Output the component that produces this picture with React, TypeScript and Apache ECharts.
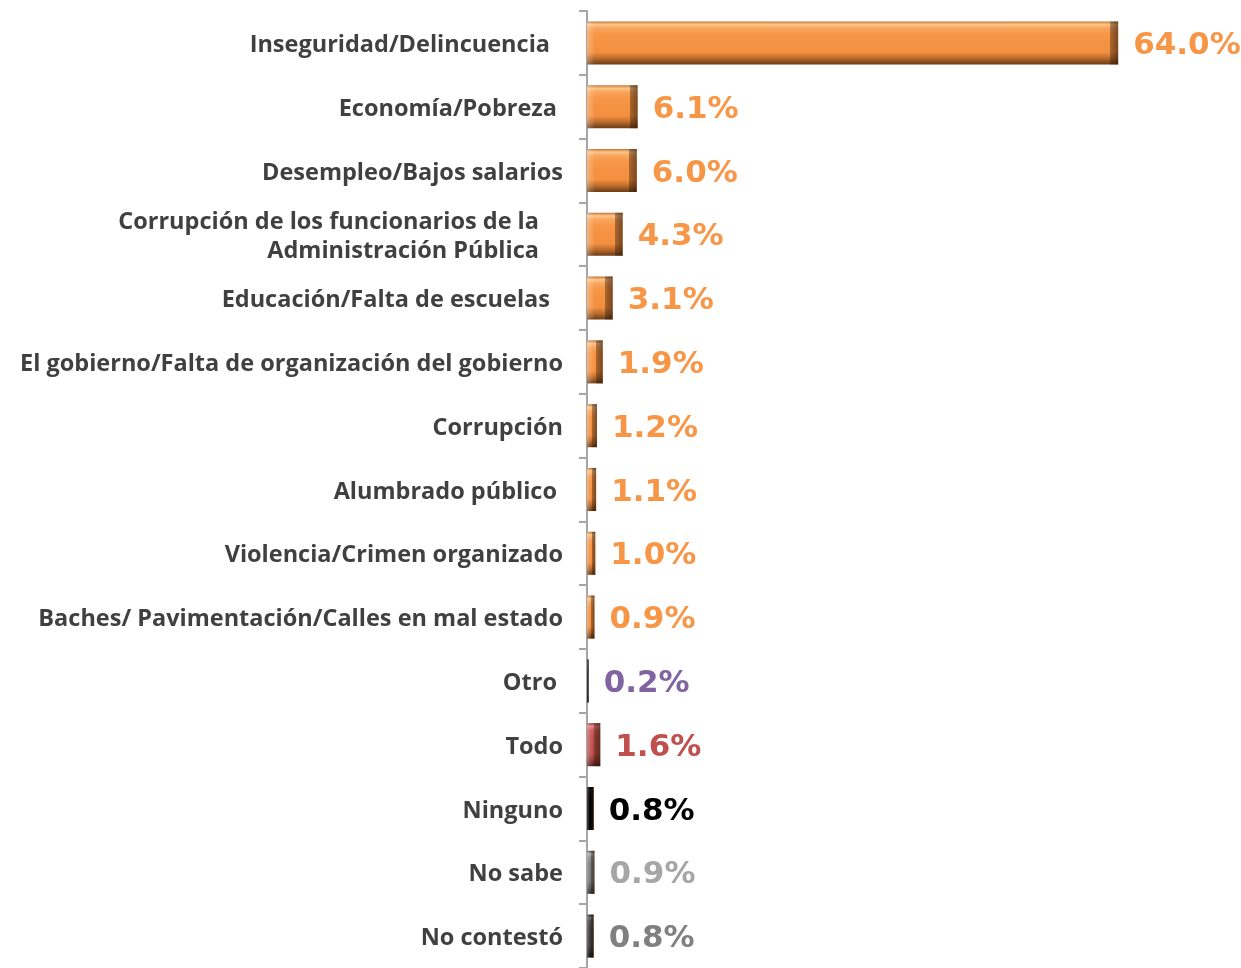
import React, { useEffect, useRef } from "react";
import * as echarts from "echarts";

const categories = [
  "Inseguridad/Delincuencia",
  "Economía/Pobreza",
  "Desempleo/Bajos salarios",
  "Corrupción de los funcionarios de la\nAdministración Pública",
  "Educación/Falta de escuelas",
  "El gobierno/Falta de organización del gobierno",
  "Corrupción",
  "Alumbrado público",
  "Violencia/Crimen organizado",
  "Baches/ Pavimentación/Calles en mal estado",
  "Otro",
  "Todo",
  "Ninguno",
  "No sabe",
  "No contestó",
];

const values = [64.0, 6.1, 6.0, 4.3, 3.1, 1.9, 1.2, 1.1, 1.0, 0.9, 0.2, 1.6, 0.8, 0.9, 0.8];

// style per row: bar palette and label colour
const barKinds = ["o", "o", "o", "o", "o", "o", "o", "o", "o", "o", "navy", "red", "black", "grey", "dark"];
const labelRightPad = [13, 6, 0, 24, 13, 0, 0, 6, 0, 0, 6, 0, 0, 0, 0];

const palettes: Record<string, { stops: string[]; label: string }> = {
  o: { stops: ["#c27433", "#fdc58a", "#f9a55e", "#f79646", "#f28f40", "#b4672a", "#6a3b14"], label: "#f79646" },
  red: { stops: ["#8e3432", "#e38684", "#cc5a57", "#c0504d", "#b84a47", "#8a3330", "#4f1b1a"], label: "#c0504d" },
  navy: { stops: ["#20203a", "#3c3c5c", "#2c2c48", "#262640", "#222238", "#18182a", "#0c0c18"], label: "#8064a2" },
  black: { stops: ["#000000", "#111111", "#050505", "#000000", "#000000", "#000000", "#000000"], label: "#000000" },
  grey: { stops: ["#555555", "#b0b0b0", "#8c8c8c", "#7f7f7f", "#777777", "#555555", "#2e2e2e"], label: "#a6a6a6" },
  dark: { stops: ["#222222", "#6a6a6a", "#4a4a4a", "#404040", "#3a3a3a", "#262626", "#111111"], label: "#808080" },
};

const X_MAX = 78.8;
const GRID_LEFT = 587;
const CHART_W = 1241;

function grad(stops: string[]) {
  const pos = [0, 0.07, 0.16, 0.3, 0.72, 0.87, 1];
  return new echarts.graphic.LinearGradient(
    0,
    0,
    0,
    1,
    stops.map((c, i) => ({ offset: pos[i], color: c }))
  );
}

// horizontal bevel overlay: light left edge, dark right edge of ~8px
function bevel(v: number) {
  const px = (v / X_MAX) * (CHART_W - GRID_LEFT);
  const e = Math.min(0.45, 8 / Math.max(px, 1));
  return new echarts.graphic.LinearGradient(0, 0, 1, 0, [
    { offset: 0, color: "rgba(255,255,255,0.28)" },
    { offset: e, color: "rgba(255,255,255,0)" },
    { offset: 1 - e, color: "rgba(0,0,0,0)" },
    { offset: Math.min(1, 1 - e + 0.0001), color: "rgba(40,20,5,0.35)" },
    { offset: 1, color: "rgba(40,20,5,0.6)" },
  ]);
}

export default function App() {
  const ref = useRef<HTMLDivElement>(null);
  useEffect(() => {
    if (!ref.current) return;
    const chart = echarts.init(ref.current, undefined, { renderer: "svg" });
    const rich: Record<string, any> = {};
    labelRightPad.forEach((p, i) => {
      rich["p" + i] = {
        fontFamily: "Open Sans",
        fontWeight: "bold",
        fontSize: 23.5,
        color: "#404040",
        lineHeight: 29,
        padding: [0, p, 0, 0],
        align: "right",
      };
    });
    chart.setOption({
      animation: false,
      grid: { left: GRID_LEFT, right: 0, top: 11, bottom: -4, containLabel: false },
      xAxis: {
        type: "value",
        min: 0,
        max: X_MAX,
        show: false,
      },
      yAxis: {
        type: "category",
        inverse: true,
        data: categories,
        axisLine: { show: true, lineStyle: { color: "#a6a6a6", width: 2 } },
        axisTick: { show: true, length: 8, lineStyle: { color: "#a6a6a6", width: 2 } },
        axisLabel: {
          margin: 24,
          align: "right",
          formatter: (v: string, idx: number) =>
            v
              .split("\n")
              .map((line) => `{p${idx}|${line}}`)
              .join("\n"),
          rich,
        },
      },
      series: [
        {
          type: "bar",
          barWidth: 43,
          data: values.map((v, i) => {
            const pal = palettes[barKinds[i]];
            return {
              value: v,
              itemStyle: { color: grad(pal.stops) },
              label: { color: pal.label },
            };
          }),
          label: {
            show: true,
            position: "right",
            distance: 15,
            fontFamily: "DejaVu Sans",
            fontWeight: "bold",
            fontSize: 31,
            formatter: (p: any) => p.value.toFixed(1) + "%",
          },
        },
        {
          type: "bar",
          barWidth: 43,
          barGap: "-100%",
          silent: true,
          data: values.map((v) => ({ value: v, itemStyle: { color: bevel(v) } })),
          label: { show: false },
        },
      ],
    });
    return () => chart.dispose();
  }, []);
  return (
    <div
      ref={ref}
      style={{ position: "fixed", left: 0, top: 0, width: CHART_W, height: 968 }}
    />
  );
}
